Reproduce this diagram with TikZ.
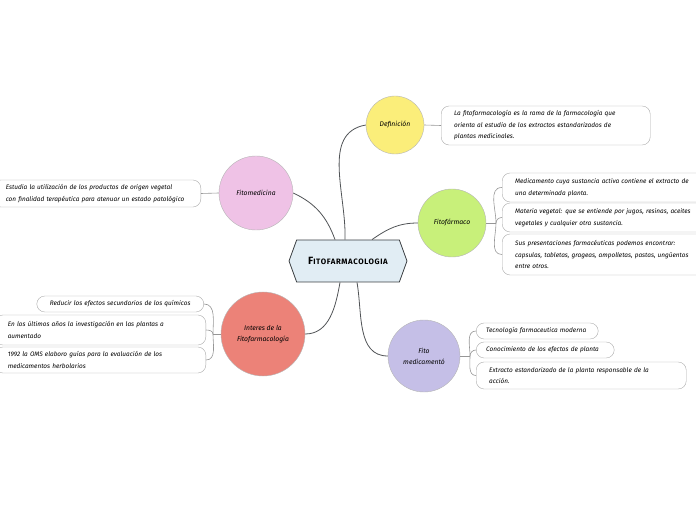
\documentclass[tikz,border=0pt]{standalone}
\usepackage{fontspec}
\setmainfont{Fira Sans}
\usetikzlibrary{shapes.symbols}
\definecolor{corefill}{RGB}{225,237,244}
\definecolor{coreline}{RGB}{60,64,67}
\definecolor{defyellow}{RGB}{251,238,122}
\definecolor{farmgreen}{RGB}{200,240,122}
\definecolor{medipink}{RGB}{239,194,230}
\definecolor{intesalmon}{RGB}{236,130,120}
\definecolor{fmedlilac}{RGB}{197,191,231}
\definecolor{twiggray}{RGB}{150,150,150}

\begin{document}
\begin{tikzpicture}[x=1pt, y=1pt,
    core/.style={draw=coreline, fill=corefill, thick, shape=signal,
                 signal to=west and east, signal pointer angle=140,
                 minimum width=118pt, minimum height=42pt,
                 font=\bfseries\addfontfeatures{LetterSpace=8}},
    topic/.style={circle, draw=twiggray!70, align=center, inner sep=0pt,
                  font=\itshape\fontsize{6.8}{11}\selectfont},
    leaf/.style={draw=twiggray!80, fill=white, rounded corners=8pt, align=left,
                 inner xsep=13pt, inner ysep=2pt,
                 font=\itshape\fontsize{6.45}{11.5}\selectfont},
    link/.style={thick, color=coreline!90},
    twig/.style={color=twiggray, line width=0.6pt}
]
\useasboundingbox (0,0) rectangle (696,520);
\node[core] (fito) at (348,259) {{\fontsize{10.5}{12}\selectfont F}{\fontsize{7.8}{9}\selectfont ITOFARMACOLOGIA}};
% topics
\node[topic, fill=defyellow, minimum size=58pt] (defi) at (395,395) {Definición};
\node[topic, fill=farmgreen, minimum size=68pt] (farm) at (452,297) {Fitofármaco};
\node[topic, fill=medipink, minimum size=74pt] (medi) at (256,327) {Fitomedicina};
\node[topic, fill=intesalmon, minimum size=84pt] (inte) at (263,186) {Interes de la\\Fitofarmacología};
\node[topic, fill=fmedlilac, minimum size=72pt] (fmed) at (424,164) {Fito\\medicamentó};
% leaves
\node[leaf, anchor=west, text width=183pt, minimum height=39pt] (defbox) at (441,394.5)
  {La fitofarmacología es la rama de la farmacología que\\orienta al estudio de los extractos estandarizados de\\plantas medicinales.};
\node[leaf, anchor=west, text width=180pt, minimum height=29pt] (farma) at (502,332.5)
  {Medicamento cuya sustancia activa contiene el extracto de\\una determinada planta.};
\node[leaf, anchor=west, text width=180pt, minimum height=29pt] (farmb) at (502,302.5)
  {Materia vegetal: que se entiende por jugos, resinas, aceites\\vegetales y cualquier otra sustancia.};
\node[leaf, anchor=west, text width=180pt, minimum height=41pt] (farmc) at (502,265.5)
  {Sus presentaciones farmacéuticas podemos encontrar:\\capsulas, tabletas, grageas, ampolletas, pastas, ungüentos\\entre otros.};
\node[leaf, anchor=east, text width=182pt, minimum height=27pt] (medibox) at (201,326.5)
  {Estudia la utilización de los productos de origen vegetal\\con finalidad terapéutica para atenuar un estado patológico};
\node[leaf, anchor=east, text width=141pt, minimum height=16pt] (intea) at (204,216)
  {Reducir los efectos secundarios de los químicos};
\node[leaf, anchor=east, text width=185pt, minimum height=30pt] (inteb) at (206,190)
  {En los últimos años la investigación en las plantas a\\aumentado};
\node[leaf, anchor=east, text width=185pt, minimum height=26pt] (intec) at (206,160)
  {1992 la OMS elaboro guías para la evaluación de los\\medicamentos herbolarios};
\node[leaf, anchor=west, inner xsep=10pt, text width=102pt, minimum height=16pt] (fmeda) at (476,189)
  {Tecnología farmaceutica moderna};
\node[leaf, anchor=west, inner xsep=10pt, text width=118pt, minimum height=16pt] (fmedb) at (476,170)
  {Conocimiento de los efectos de planta};
\node[leaf, anchor=west, text width=184pt, minimum height=27pt] (fmedc) at (476,144.5)
  {Extracto estandarizado de la planta responsable de la\\acción.};
\coordinate (farmj) at (496,297);
\coordinate (intej) at (213,186);
\coordinate (fmedj) at (470,164);
% main links
\draw[link] ([xshift=-3pt]fito.north) to[out=88, in=190] (defi.west);
\draw[link] ([xshift=24pt]fito.north) to[out=35, in=180] (farm.west);
\draw[link] ([xshift=-13pt]fito.north) to[out=110, in=-25] (medi.east);
\draw[link] ([xshift=-8pt]fito.south) to[out=-100, in=0] (inte.east);
\draw[link] ([xshift=9pt]fito.south) to[out=-80, in=180] (fmed.west);
% leaf links
\draw[twig] (defi.east) -- (defbox.west);
\draw[twig] (medi.west) -- (medibox.east);
\draw[twig] (farm.east) -- (farmj);
\draw[twig] (farmj) to[out=90, in=180] (farma.west);
\draw[twig] (farmj) to[out=90, in=180] (farmb.west);
\draw[twig] (farmj) to[out=-90, in=180] (farmc.west);
\draw[twig] (inte.west) -- (intej);
\draw[twig] (intej) to[out=90, in=0] (intea.east);
\draw[twig] (intej) to[out=90, in=0] (inteb.east);
\draw[twig] (intej) to[out=-90, in=0] (intec.east);
\draw[twig] (fmed.east) -- (fmedj);
\draw[twig] (fmedj) to[out=90, in=180] (fmeda.west);
\draw[twig] (fmedj) to[out=90, in=180] (fmedb.west);
\draw[twig] (fmedj) to[out=-90, in=180] (fmedc.west);
\end{tikzpicture}
\end{document}
